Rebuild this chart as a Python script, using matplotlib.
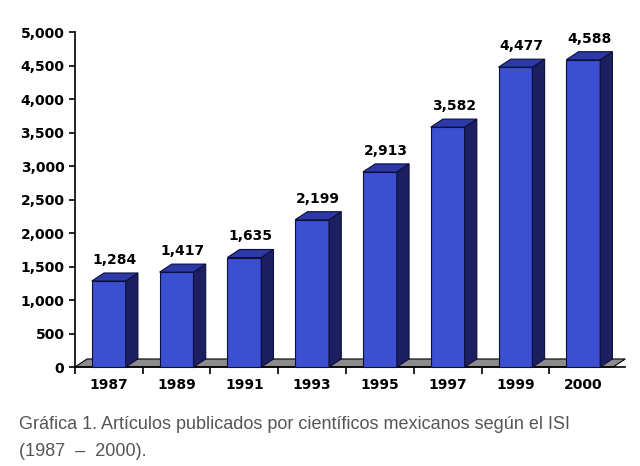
import matplotlib
matplotlib.use("Agg")
import matplotlib.pyplot as plt
from matplotlib.patches import Polygon

years = ["1987", "1989", "1991", "1993", "1995", "1997", "1999", "2000"]
articles = [1284, 1417, 1635, 2199, 2913, 3582, 4477, 4588]

front = "#3b4fd0"
top = "#2b3aa8"
side = "#1c2060"
edge = "#0c0f3a"

fig = plt.figure(figsize=(6.4, 4.66), dpi=100)
ax = fig.add_axes([0.117, 0.2124, 0.86, 0.7186])
ax.set_xlim(-0.5, 7.62)
ax.set_ylim(0, 5000)

w = 0.25   # half width of bar front
dx = 0.18  # depth offset in x
dy = 120   # depth offset in y

# gray floor
ax.add_patch(Polygon([(-0.5, 0), (7.62 - dx, 0), (7.62, dy), (-0.5 + dx, dy)],
                     closed=True, fc="#8c8c8c", ec="black", lw=0.8, clip_on=False, zorder=1))

for i, v in enumerate(articles):
    l, r = i - w, i + w
    ax.add_patch(Polygon([(l, 0), (r, 0), (r, v), (l, v)], fc=front, ec=edge, lw=0.8, zorder=3, clip_on=False))
    ax.add_patch(Polygon([(r, 0), (r + dx, dy), (r + dx, v + dy), (r, v)], fc=side, ec=edge, lw=0.8, zorder=3, clip_on=False))
    ax.add_patch(Polygon([(l, v), (r, v), (r + dx, v + dy), (l + dx, v + dy)], fc=top, ec=edge, lw=0.8, zorder=3, clip_on=False))
    ax.text(i + dx / 2, v + dy + 90, f"{v:,}", ha="center", va="bottom",
            fontsize=10, fontweight="bold", family="DejaVu Sans", clip_on=False)

for s in ["top", "right"]:
    ax.spines[s].set_visible(False)
ax.spines["left"].set_linewidth(1.2)
ax.spines["bottom"].set_linewidth(1.2)

ax.set_yticks(range(0, 5001, 500))
ax.set_yticklabels([f"{t:,}" for t in range(0, 5001, 500)], fontsize=10, fontweight="bold")
ax.set_xticks(range(len(years)))
ax.set_xticklabels(years, fontsize=10, fontweight="bold")
ax.tick_params(axis="x", which="major", length=0, pad=8)
ax.set_xticks([i + 0.5 for i in range(-1, len(years) - 1)], minor=True)
ax.tick_params(axis="x", which="minor", length=5, width=1.2)
ax.tick_params(axis="y", length=4, width=1.2)

fig.text(0.03, 0.08, "Gráfica 1. Artículos publicados por científicos mexicanos según el ISI",
         fontsize=13, color="#555555", family="Liberation Sans")
fig.text(0.03, 0.022, "(1987  –  2000).", fontsize=13, color="#555555", family="Liberation Sans")

fig.savefig("out.png", dpi=100)
